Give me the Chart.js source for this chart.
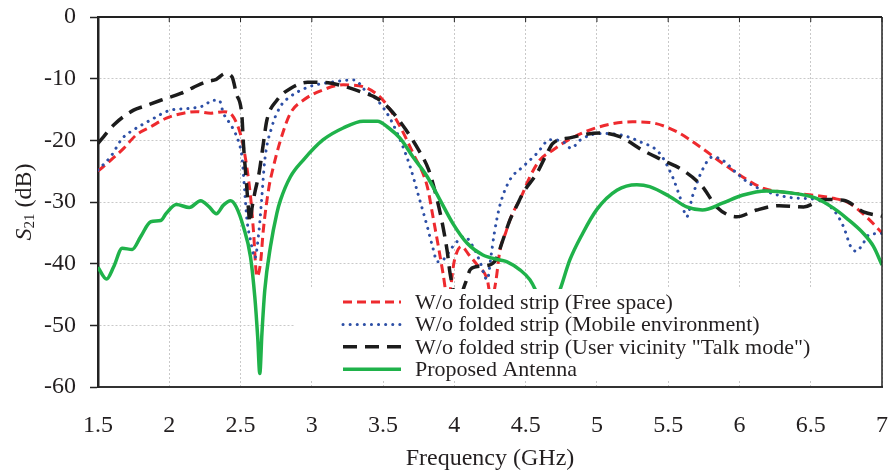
<!DOCTYPE html>
<html>
<head>
<meta charset="utf-8">
<script src="https://cdn.jsdelivr.net/npm/chart.js@4.4.0/dist/chart.umd.min.js"></script>
<style>
  html, body { margin: 0; padding: 0; background: #fff; }
</style>
</head>
<body>
<canvas id="chart" width="888" height="472"></canvas>
<script>
const ctx = document.getElementById('chart');

// series labels (legend order)
const labels = [
  'W/o folded strip (Free space)',
  'W/o folded strip (Mobile environment)',
  'W/o folded strip (User vicinity "Talk mode")',
  'Proposed Antenna',
];

// W/o folded strip, free space (red dashed)
const freeFreq = [1.5, 1.59, 1.68, 1.77, 1.87, 1.98, 2.10, 2.19, 2.29, 2.38, 2.44, 2.49, 2.52, 2.57, 2.59, 2.615, 2.64, 2.66, 2.70, 2.72, 2.78, 2.85, 2.94, 3.08, 3.22, 3.36, 3.50, 3.62, 3.71, 3.81, 3.85, 3.89, 3.92, 3.955, 4.00, 4.05, 4.10, 4.17, 4.23, 4.26, 4.29, 4.32, 4.36, 4.39, 4.41, 4.47, 4.53, 4.60, 4.69, 4.81, 5.02, 5.25, 5.37, 5.56, 5.72, 5.88, 6.02, 6.17, 6.35, 6.52, 6.66, 6.77, 6.89, 7.0];
const freeS21 = [-25, -23.2, -21.3, -19.1, -17.8, -16.4, -15.6, -15.35, -15.6, -15.35, -15.9, -18.3, -21, -29.1, -34.5, -42.1, -39.9, -34.5, -27.5, -25.3, -20, -15.6, -13.5, -11.8, -11, -11.3, -13.5, -17.8, -22.1, -27.5, -32.4, -37.5, -41.5, -46, -39.5, -37.2, -38.5, -40.5, -42.5, -46, -43, -37.8, -35, -32.9, -31.8, -29.1, -25.9, -23.2, -21.6, -19.8, -17.8, -17, -17.1, -18.6, -21, -23.7, -25.9, -27.8, -28.5, -28.9, -29.4, -30.2, -32.4, -35];

// W/o folded strip, mobile environment (blue dotted)
const mobileFreq = [1.5, 1.59, 1.67, 1.75, 1.87, 2.01, 2.15, 2.25, 2.30, 2.35, 2.38, 2.44, 2.49, 2.51, 2.53, 2.545, 2.57, 2.60, 2.63, 2.65, 2.67, 2.72, 2.78, 2.85, 2.97, 3.13, 3.30, 3.37, 3.46, 3.55, 3.63, 3.69, 3.75, 3.81, 3.85, 3.88, 3.92, 3.99, 4.07, 4.13, 4.18, 4.23, 4.26, 4.28, 4.32, 4.39, 4.48, 4.58, 4.67, 4.76, 4.82, 4.88, 5.02, 5.16, 5.30, 5.44, 5.53, 5.59, 5.63, 5.67, 5.74, 5.81, 5.88, 5.98, 6.07, 6.19, 6.31, 6.42, 6.54, 6.66, 6.73, 6.78, 6.82, 6.86, 6.91, 7.0];
const mobileS21 = [-24.8, -22.6, -19.7, -18.3, -16.7, -15.1, -14.8, -14.3, -13.5, -13.5, -15.6, -17.8, -20.5, -22.7, -28.5, -32.9, -36.2, -39.1, -34.5, -29, -23.2, -17.8, -14.5, -12.9, -11.4, -10.6, -10.2, -11.8, -13.5, -16.5, -20.5, -24.3, -29.1, -34, -37.5, -39.7, -39.4, -37.2, -35.6, -37.2, -39.7, -42.6, -38.3, -35.1, -30.5, -26.4, -24.3, -22.1, -19.9, -20.2, -21.3, -20, -18.9, -19.1, -20.2, -22.1, -25.9, -29.7, -32.4, -29.1, -24.8, -22.7, -23.2, -25.3, -27, -28.3, -29.1, -29.4, -29.6, -31.3, -34, -37.2, -38, -37, -35.3, -35.1];

// W/o folded strip, user vicinity "talk mode" (black long dash)
const talkFreq = [1.5, 1.54, 1.61, 1.75, 1.82, 1.94, 2.08, 2.17, 2.26, 2.33, 2.39, 2.44, 2.47, 2.51, 2.52, 2.54, 2.555, 2.565, 2.58, 2.60, 2.63, 2.66, 2.685, 2.755, 2.85, 2.97, 3.08, 3.22, 3.34, 3.46, 3.55, 3.66, 3.75, 3.82, 3.88, 3.92, 3.95, 3.97, 4.02, 4.08, 4.11, 4.15, 4.25, 4.29, 4.34, 4.39, 4.44, 4.48, 4.58, 4.65, 4.69, 4.81, 5.02, 5.16, 5.32, 5.46, 5.60, 5.74, 5.84, 5.98, 6.12, 6.28, 6.45, 6.59, 6.73, 6.87, 7.0];
const talkS21 = [-20.5, -19.4, -17.5, -15.1, -14.5, -13.5, -12.4, -11.4, -10.5, -10.1, -9.2, -9.7, -12.4, -16.2, -20.5, -26.5, -31, -33.3, -31, -28.5, -25.3, -20.5, -16.7, -13.5, -11.6, -10.6, -10.6, -11.2, -12.1, -13.2, -15, -18.3, -21.6, -24.8, -29.7, -34, -38, -41.6, -46, -43, -41, -40.5, -40.2, -39.4, -36.2, -32.9, -30.5, -28.6, -25.3, -22.1, -20.5, -19.6, -18.8, -19.4, -21.6, -23.2, -24.8, -27.5, -30.8, -32.4, -31.3, -30.6, -30.8, -29.6, -29.7, -31.6, -32.3];

// Proposed antenna (green solid)
const propFreq = [1.5, 1.56, 1.61, 1.67, 1.74, 1.80, 1.87, 1.94, 1.98, 2.05, 2.14, 2.22, 2.28, 2.33, 2.38, 2.43, 2.47, 2.52, 2.57, 2.60, 2.62, 2.635, 2.65, 2.67, 2.71, 2.755, 2.78, 2.85, 2.94, 3.08, 3.22, 3.36, 3.46, 3.54, 3.62, 3.71, 3.81, 3.90, 3.99, 4.09, 4.20, 4.32, 4.37, 4.46, 4.53, 4.57, 4.65, 4.74, 4.81, 4.90, 5.00, 5.14, 5.28, 5.37, 5.51, 5.63, 5.74, 5.88, 6.02, 6.19, 6.35, 6.54, 6.66, 6.75, 6.87, 6.94, 7.0];
const propS21 = [-40.6, -42.5, -40.5, -37.5, -37.7, -35.6, -33.2, -33, -31.8, -30.4, -30.9, -29.8, -30.8, -31.9, -30.5, -29.8, -30.8, -34, -38.9, -45.4, -51.8, -57.8, -51.3, -44.3, -37.2, -31.8, -29.7, -25.9, -23.2, -19.9, -18, -16.9, -16.9, -18, -19.7, -22.7, -25.9, -29.7, -33.5, -36.7, -38.6, -39.4, -39.7, -41, -42.6, -44.3, -49, -44.3, -39.4, -35.1, -31.2, -28.1, -27.2, -27.5, -29.1, -30.8, -31.3, -30.2, -28.9, -28.2, -28.5, -29.4, -31, -32.6, -35.1, -37.2, -40.2];

const toPoints = (xs, ys) => xs.map((x, i) => ({ x: x, y: ys[i] }));

const serif = '"Liberation Serif", "Times New Roman", serif';
const textColor = '#231f20';

// legend drawn inside the plot on a white box (covers curves like the original)
const boxLegend = {
  id: 'boxLegend',
  afterDatasetsDraw(chart) {
    const c = chart.ctx;
    const a = chart.chartArea;
    const left = a.left + 197;
    const top = a.top + 272;
    c.save();
    c.fillStyle = '#fff';
    c.fillRect(left, top, a.right - left, 92);
    c.font = '22px ' + serif;
    c.textBaseline = 'middle';
    chart.data.datasets.forEach((ds, i) => {
      const y = top + 13 + i * 22.4;
      c.strokeStyle = ds.borderColor;
      c.lineWidth = ds.borderWidth;
      c.lineCap = ds.borderCapStyle || 'butt';
      c.setLineDash(ds.borderDash || []);
      c.beginPath();
      c.moveTo(left + 48, y);
      c.lineTo(left + 106, y);
      c.stroke();
      c.fillStyle = textColor;
      c.fillText(ds.label, left + 120, y + 1);
    });
    c.restore();
  },
};

// top/right frame and the y title with its subscript
const frame = {
  id: 'frame',
  afterDraw(chart) {
    const c = chart.ctx;
    const a = chart.chartArea;
    c.save();
    c.strokeStyle = '#222';
    c.lineWidth = 2;
    c.beginPath();
    c.moveTo(a.left, a.top);
    c.lineTo(a.right, a.top);
    c.stroke();
    c.lineWidth = 1.5;
    c.beginPath();
    c.moveTo(a.right, a.top);
    c.lineTo(a.right, a.bottom);
    c.stroke();
    // small inward ticks on the top edge
    const xs = chart.scales.x;
    c.lineWidth = 1;
    xs.ticks.forEach(t => {
      const px = xs.getPixelForValue(t.value);
      c.beginPath();
      c.moveTo(px, a.top);
      c.lineTo(px, a.top + 5);
      c.stroke();
    });

    // y axis title: S21 (dB)
    const big = '24px ' + serif;
    const ital = 'italic 24px ' + serif;
    const small = '15px ' + serif;
    c.font = ital; const wS = c.measureText('S').width;
    c.font = small; const w21 = c.measureText('21').width;
    c.font = big; const wRest = c.measureText(' (dB)').width;
    let x = -(wS + w21 + wRest) / 2;
    c.translate(31, (a.top + a.bottom) / 2);
    c.rotate(-Math.PI / 2);
    c.fillStyle = textColor;
    c.textBaseline = 'alphabetic';
    c.font = ital; c.fillText('S', x, 0); x += wS;
    c.font = small; c.fillText('21', x, 3); x += w21;
    c.font = big; c.fillText(' (dB)', x, 0);
    c.restore();
  },
};

new Chart(ctx, {
  type: 'line',
  plugins: [boxLegend, frame],
  data: {
    datasets: [
      {
        label: labels[0],
        data: toPoints(freeFreq, freeS21),
        borderColor: '#ee2a2e',
        borderWidth: 3,
        borderDash: [9, 5],
        order: 4,
      },
      {
        label: labels[1],
        data: toPoints(mobileFreq, mobileS21),
        borderColor: '#2d4fa6',
        borderWidth: 3,
        borderDash: [0.1, 7],
        borderCapStyle: 'round',
        order: 3,
      },
      {
        label: labels[2],
        data: toPoints(talkFreq, talkS21),
        borderColor: '#1c1c1c',
        borderWidth: 3.5,
        borderDash: [14, 8],
        order: 2,
      },
      {
        label: labels[3],
        data: toPoints(propFreq, propS21),
        borderColor: '#1fb24a',
        borderWidth: 3.5,
        order: 1,
      },
    ],
  },
  options: {
    responsive: false,
    animation: false,
    layout: { padding: { top: 17, right: 6, left: 0, bottom: 0 } },
    elements: {
      point: { radius: 0 },
      line: { cubicInterpolationMode: 'monotone', fill: false },
    },
    plugins: {
      legend: { display: false },
      tooltip: { enabled: false },
    },
    scales: {
      x: {
        type: 'linear',
        min: 1.5,
        max: 7,
        afterFit: (s) => { s.height = 85; s.paddingLeft = 0; s.paddingRight = 0; },
        ticks: {
          stepSize: 0.5,
          color: textColor,
          font: { family: serif, size: 24 },
          padding: 24,
          maxRotation: 0,
          callback: (v) => String(v),
        },
        grid: { color: '#c9c9c9', lineWidth: 1, drawTicks: false },
        border: { color: '#333', width: 2, dash: [2, 2] },
        title: {
          display: true,
          text: 'Frequency (GHz)',
          color: textColor,
          font: { family: serif, size: 24, lineHeight: 1.2 },
          padding: { top: 0, bottom: -1 },
        },
      },
      y: {
        min: -60,
        max: 0,
        afterFit: (s) => { s.width = 98; s.paddingTop = 0; s.paddingBottom = 0; },
        ticks: { stepSize: 10, color: textColor, font: { family: serif, size: 24 }, padding: 14 },
        grid: { color: '#c9c9c9', lineWidth: 1, tickLength: 8, tickColor: '#222', tickWidth: 1.5 },
        border: { color: '#222', width: 2.5, dash: [2, 2] },
      },
    },
  },
});
</script>
</body>
</html>
